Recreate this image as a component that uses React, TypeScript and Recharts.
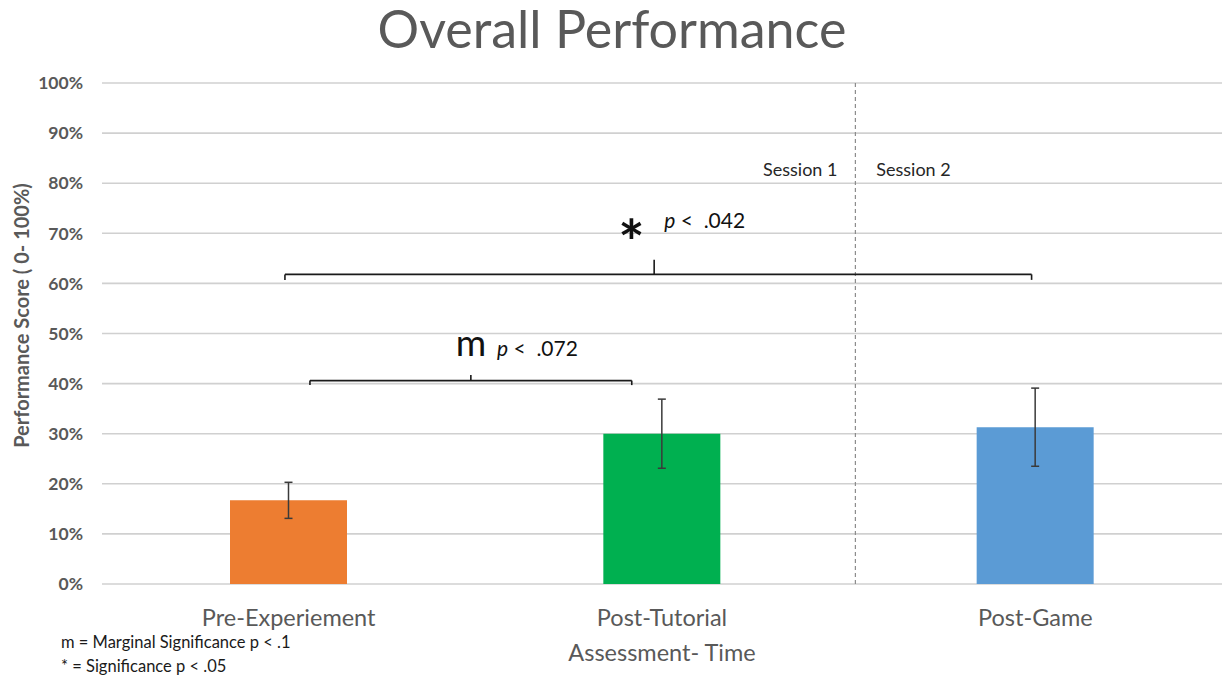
import React from 'react';
import {
  ComposedChart,
  Bar,
  Cell,
  ErrorBar,
  XAxis,
  YAxis,
  CartesianGrid,
  ReferenceLine,
  ReferenceDot,
  Label,
} from 'recharts';

// Assessment points and mean scores (percent) with their error margins
const categories = ['Pre-Experiement', 'Post-Tutorial', 'Post-Game'];
const scores = [16.7, 30.0, 31.3];
const errors = [3.6, 6.9, 7.8];
const barColors = ['#ED7D31', '#00B050', '#5B9BD5'];
const yTicks = [0, 10, 20, 30, 40, 50, 60, 70, 80, 90, 100];

// Significance brackets, on a 0..3 scale across the three categories
const bracketM = { from: 0.557, to: 1.419, mid: 0.988, y: 40.6, foot: 39.7, peak: 41.7 };
const bracketStar = { from: 0.49, to: 2.49, mid: 1.479, y: 61.8, foot: 60.7, peak: 64.7 };
const sessionSplit = 2.018;

// each category sits in the middle of its unit slot on the 0..3 scale
const data = categories.map((name, i) => ({ name, slot: i + 0.5, score: scores[i], err: errors[i] }));

const FONT = 'Lato, "Open Sans", sans-serif';
const W = 1225;
const H = 681;
const NBSP = '\u00a0';

const bracketSegments = (b: typeof bracketM) => [
  [{ x: b.from, y: b.foot }, { x: b.from, y: b.y }],
  [{ x: b.from, y: b.y }, { x: b.to, y: b.y }],
  [{ x: b.to, y: b.y }, { x: b.to, y: b.foot }],
  [{ x: b.mid, y: b.y }, { x: b.mid, y: b.peak }],
];

type Note = {
  x: number;
  y: number;
  text: string;
  size: number;
  anchor: 'start' | 'middle' | 'end';
  italicP?: boolean;
  weight?: number;
  fill?: string;
  dy?: number;
};

const notes: Note[] = [
  { x: 0.988, y: 45.5, text: 'm', size: 37, anchor: 'middle', fill: '#111' },
  { x: 1.058, y: 45.5, text: '.072', size: 21, anchor: 'start', italicP: true, fill: '#111' },
  { x: 1.418, y: 71.0, text: '*', size: 62, anchor: 'middle', weight: 700, fill: '#111', dy: 37 },
  { x: 1.506, y: 71.0, text: '.042', size: 21, anchor: 'start', italicP: true, fill: '#111' },
  { x: 1.970, y: 81.5, text: 'Session 1', size: 18, anchor: 'end', fill: '#262626' },
  { x: 2.074, y: 81.5, text: 'Session 2', size: 18, anchor: 'start', fill: '#262626' },
];

const NoteShape = (note: Note) => (props: any) => {
  const { cx, cy } = props;
  if (note.italicP) {
    return (
      <text x={cx} y={cy} fontFamily={FONT} fontSize={note.size} fill={note.fill} textAnchor="start">
        <tspan fontStyle="italic">p</tspan>
        <tspan>{`${NBSP}<${NBSP}${NBSP}${note.text}`}</tspan>
      </text>
    );
  }
  return (
    <text
      x={cx}
      y={cy + (note.dy || 0)}
      fontFamily={FONT}
      fontSize={note.size}
      fontWeight={note.weight || 400}
      fill={note.fill}
      textAnchor={note.anchor}
    >
      {note.text}
    </text>
  );
};

export default function App() {
  return (
    <div style={{ position: 'absolute', left: 0, top: 0, width: W, height: H, background: '#fff' }}>
      <ComposedChart
        width={W}
        height={H}
        data={data}
        margin={{ top: 83, right: 3, bottom: 0, left: 0 }}
        barCategoryGap="34%"
      >
        <CartesianGrid vertical={false} stroke="#d0d0d0" strokeWidth={1.6} />
        <XAxis
          dataKey="name"
          height={97}
          axisLine={false}
          tickLine={false}
          tickSize={0}
          tickMargin={25}
          interval={0}
          tick={{ fill: '#595959', fontSize: 23.5, fontFamily: FONT }}
        />
        <XAxis
          xAxisId="n"
          dataKey="slot"
          type="number"
          scale="linear"
          domain={[0, 3]}
          ticks={[0, 1, 2, 3]}
          allowDataOverflow
          hide
        />
        <YAxis
          width={102}
          domain={[0, 100]}
          ticks={yTicks}
          axisLine={false}
          tickLine={false}
          tickSize={0}
          tickMargin={19}
          tickFormatter={(v: number) => `${v}%`}
          tick={{ fill: '#595959', fontSize: 17.5, fontWeight: 700, fontFamily: FONT }}
        >
          <Label
            content={(props: any) => {
              const vb = props.viewBox || {};
              const cx = 21;
              const cy = (vb.y || 83) + (vb.height || 501) / 2 - 18;
              return (
                <text
                  x={cx}
                  y={cy}
                  transform={`rotate(-90, ${cx}, ${cy})`}
                  textAnchor="middle"
                  dominantBaseline="central"
                  fontFamily={FONT}
                  fontSize={20}
                  fontWeight={700}
                  fill="#595959"
                >
                  Performance Score ( 0- 100%)
                </text>
              );
            }}
          />
        </YAxis>
        <Bar dataKey="score" isAnimationActive={false} barSize={117}>
          {data.map((d, i) => (
            <Cell key={d.name} fill={barColors[i]} />
          ))}
          <ErrorBar dataKey="err" direction="y" width={4} stroke="#3a3a3a" strokeWidth={1.5} isAnimationActive={false} />
        </Bar>
        <ReferenceLine
          xAxisId="n"
          x={sessionSplit}
          stroke="#8c8c8c"
          strokeWidth={1.2}
          strokeDasharray="4 3"
        />
        {[...bracketSegments(bracketM), ...bracketSegments(bracketStar)].map((seg, i) => (
          <ReferenceLine
            key={`br-${i}`}
            xAxisId="n"
            segment={seg}
            stroke="#1a1a1a"
            strokeWidth={1.6}
            ifOverflow="visible"
          />
        ))}
        {notes.map((note, i) => (
          <ReferenceDot
            key={`note-${i}`}
            xAxisId="n"
            x={note.x}
            y={note.y}
            r={0}
            ifOverflow="visible"
            shape={NoteShape(note)}
          />
        ))}
      </ComposedChart>
      <svg
        width={W}
        height={H}
        style={{ position: 'absolute', left: 0, top: 0, pointerEvents: 'none' }}
      >
        <text x={612} y={48} textAnchor="middle" fontFamily={FONT} fontSize={52} fill="#595959">
          Overall Performance
        </text>
        <text x={662} y={661} textAnchor="middle" fontFamily={FONT} fontSize={23.5} fill="#595959">
          Assessment- Time
        </text>
        <text x={61} y={648} fontFamily={FONT} fontSize={16.5} fill="#1a1a1a">
          m = Marginal Significance p &lt; .1
        </text>
        <text x={61} y={672} fontFamily={FONT} fontSize={16.5} fill="#1a1a1a">
          * = Significance p &lt; .05
        </text>
      </svg>
    </div>
  );
}
